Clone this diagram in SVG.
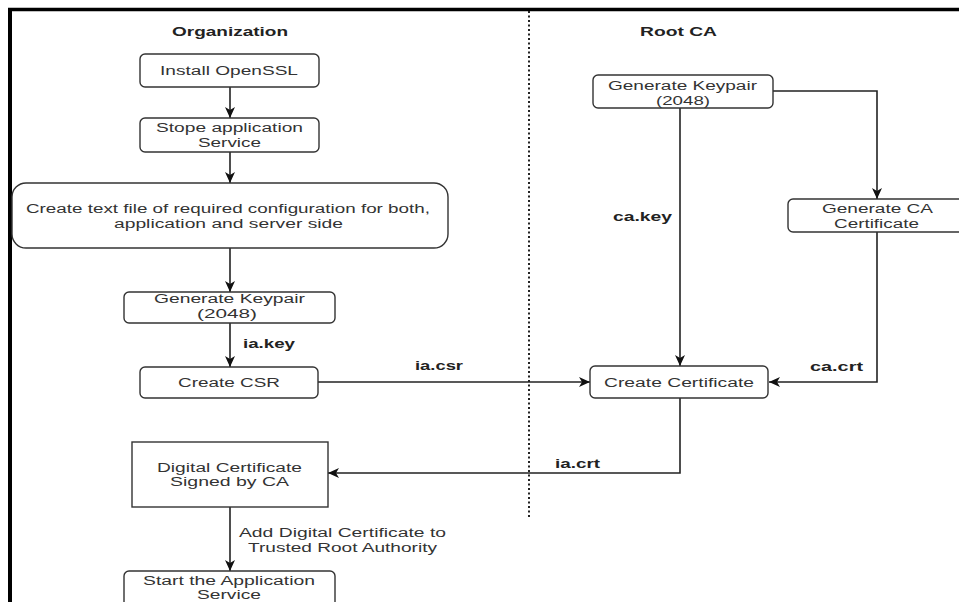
<svg xmlns="http://www.w3.org/2000/svg" width="959" height="602" viewBox="0 0 959 602">
<style>
  .box { fill: #ffffff; stroke: #333333; stroke-width: 1.4; }
  .t { font-family: "Liberation Sans", Arial, sans-serif; font-size: 12.5px; fill: #333333; text-anchor: middle; }
  .lbl { font-family: "Liberation Sans", Arial, sans-serif; font-size: 12.5px; font-weight: bold; fill: #222222; text-anchor: middle; }
  .title { font-family: "Liberation Sans", Arial, sans-serif; font-size: 13px; font-weight: bold; fill: #222222; text-anchor: middle; }
  .edge { fill: none; stroke: #222222; stroke-width: 1.6; }
</style>
<defs>
  <marker id="arr" markerUnits="userSpaceOnUse" markerWidth="12" markerHeight="10" viewBox="0 0 12 10" refX="11" refY="5" orient="auto">
    <path d="M0,0 L11,5 L0,10 L3,5 z" fill="#111111"/>
  </marker>
</defs>
<rect x="0" y="0" width="959" height="602" fill="#ffffff"/>
<g id="frame">
  <line x1="8" y1="9.5" x2="959" y2="9.5" stroke="#000000" stroke-width="3.5"/>
  <line x1="10" y1="8" x2="10" y2="602" stroke="#000000" stroke-width="4"/>
  <line x1="529" y1="11" x2="529" y2="518" stroke="#222222" stroke-width="2" stroke-dasharray="2 2.5"/>
</g>
<g id="titles">
  <text class="title" x="230" y="36" textLength="116" lengthAdjust="spacingAndGlyphs">Organization</text>
  <text class="title" x="678.5" y="36" textLength="77" lengthAdjust="spacingAndGlyphs">Root CA</text>
</g>
<g id="connectors">
  <path class="edge" d="M230,87 L230,118" marker-end="url(#arr)"/>
  <path class="edge" d="M230,152 L230,183" marker-end="url(#arr)"/>
  <path class="edge" d="M230,248 L230,292" marker-end="url(#arr)"/>
  <path class="edge" d="M230,323 L230,367" marker-end="url(#arr)"/>
  <path class="edge" d="M318,382 L590,382" marker-end="url(#arr)"/>
  <path class="edge" d="M680,108 L680,366" marker-end="url(#arr)"/>
  <path class="edge" d="M773,91 L877,91 L877,199" marker-end="url(#arr)"/>
  <path class="edge" d="M877,232 L877,382 L769,382" marker-end="url(#arr)"/>
  <path class="edge" d="M680,398 L680,473 L328,473" marker-end="url(#arr)"/>
  <path class="edge" d="M230,507 L230,571" marker-end="url(#arr)"/>
  <text class="lbl" x="269" y="348" textLength="52" lengthAdjust="spacingAndGlyphs">ia.key</text>
  <text class="lbl" x="439" y="370" textLength="48" lengthAdjust="spacingAndGlyphs">ia.csr</text>
  <text class="lbl" x="642.5" y="221" textLength="59" lengthAdjust="spacingAndGlyphs">ca.key</text>
  <text class="lbl" x="836.5" y="371" textLength="53" lengthAdjust="spacingAndGlyphs">ca.crt</text>
  <text class="lbl" x="577.5" y="468" textLength="45" lengthAdjust="spacingAndGlyphs">ia.crt</text>
  <text class="t" x="342.5" y="537" textLength="207" lengthAdjust="spacingAndGlyphs">Add Digital Certificate to</text>
  <text class="t" x="342.5" y="552" textLength="189" lengthAdjust="spacingAndGlyphs">Trusted Root Authority</text>
</g>
<g id="install-openssl">
  <rect class="box" x="140" y="54" width="179" height="33" rx="5"/>
  <text class="t" x="229" y="75" textLength="138" lengthAdjust="spacingAndGlyphs">Install OpenSSL</text>
</g>
<g id="stop-service">
  <rect class="box" x="140" y="118" width="179" height="34" rx="5"/>
  <text class="t" x="229.5" y="132" textLength="147" lengthAdjust="spacingAndGlyphs">Stope application</text>
  <text class="t" x="229.5" y="147" textLength="63" lengthAdjust="spacingAndGlyphs">Service</text>
</g>
<g id="create-config">
  <rect class="box" x="12" y="183" width="436" height="65" rx="14"/>
  <text class="t" x="228" y="213" textLength="404" lengthAdjust="spacingAndGlyphs">Create text file of required configuration for both,</text>
  <text class="t" x="228.5" y="228" textLength="229" lengthAdjust="spacingAndGlyphs">application and server side</text>
</g>
<g id="org-keypair">
  <rect class="box" x="124" y="292" width="211" height="31" rx="5"/>
  <text class="t" x="229.5" y="303" textLength="151" lengthAdjust="spacingAndGlyphs">Generate Keypair</text>
  <text class="t" x="227" y="318" textLength="60" lengthAdjust="spacingAndGlyphs">(2048)</text>
</g>
<g id="create-csr">
  <rect class="box" x="140" y="367" width="178" height="31" rx="5"/>
  <text class="t" x="229" y="387" textLength="102" lengthAdjust="spacingAndGlyphs">Create CSR</text>
</g>
<g id="digital-cert">
  <rect class="box" x="132" y="442" width="196" height="65"/>
  <text class="t" x="229.5" y="472" textLength="145" lengthAdjust="spacingAndGlyphs">Digital Certificate</text>
  <text class="t" x="229.5" y="486" textLength="119" lengthAdjust="spacingAndGlyphs">Signed by CA</text>
</g>
<g id="start-service">
  <rect class="box" x="124" y="571" width="211" height="40" rx="5"/>
  <text class="t" x="229" y="585" textLength="172" lengthAdjust="spacingAndGlyphs">Start the Application</text>
  <text class="t" x="229" y="599" textLength="64" lengthAdjust="spacingAndGlyphs">Service</text>
</g>
<g id="ca-keypair">
  <rect class="box" x="593" y="75" width="180" height="33" rx="5"/>
  <text class="t" x="682.5" y="90" textLength="149" lengthAdjust="spacingAndGlyphs">Generate Keypair</text>
  <text class="t" x="683" y="105" textLength="54" lengthAdjust="spacingAndGlyphs">(2048)</text>
</g>
<g id="ca-cert">
  <rect class="box" x="788" y="199" width="180" height="33" rx="5"/>
  <text class="t" x="877.5" y="213" textLength="111" lengthAdjust="spacingAndGlyphs">Generate CA</text>
  <text class="t" x="876.5" y="228" textLength="85" lengthAdjust="spacingAndGlyphs">Certificate</text>
</g>
<g id="create-cert">
  <rect class="box" x="590" y="366" width="178" height="32" rx="5"/>
  <text class="t" x="679" y="387" textLength="150" lengthAdjust="spacingAndGlyphs">Create Certificate</text>
</g>
</svg>
